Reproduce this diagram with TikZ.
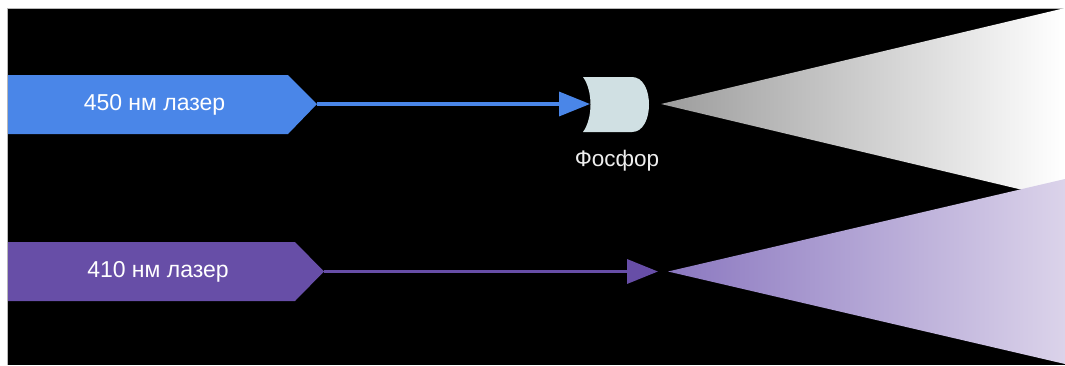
\documentclass[tikz,border=0pt]{standalone}
\usepackage{fontspec}
\setmainfont{Liberation Sans}
\usetikzlibrary{arrows.meta}
\definecolor{laserblue}{HTML}{4A86E8}
\definecolor{laserpurple}{HTML}{674EA7}
\definecolor{phosfill}{HTML}{D0E0E3}
\definecolor{conegray}{HTML}{9C9C9C}
\definecolor{conepurpA}{HTML}{8B78C0}
\definecolor{conepurpB}{HTML}{DBD3EA}
\definecolor{labelwhite}{HTML}{EEEEEE}
\definecolor{framegray}{HTML}{B8B8B8}
\tikzset{
  lbl/.style={text=white, font=\fontsize{23}{27}\selectfont, inner sep=0pt},
  beam/.style={line width=3.5pt, -{Triangle[length=31pt,width=24pt]}},
}
\begin{document}
\begin{tikzpicture}[x=1pt,y=-1pt]
\useasboundingbox (0,0) rectangle (1065,365);
\fill[white] (0,0) rectangle (1065,365);
\fill[black] (8,9) rectangle (1065,365);
\draw[framegray, line width=1pt] (7.5,365) -- (7.5,8.5) -- (1065,8.5);
% cones
\shade[left color=conegray, right color=white] (661,104) -- (1065,8) -- (1065,200) -- cycle;
\shade[left color=conepurpA, right color=conepurpB] (668,271.5) -- (1065,179) -- (1065,364) -- cycle;
% laser pentagons
\fill[laserblue] (8,75) -- (288,75) -- (317,104) -- (288,134) -- (8,134) -- cycle;
\fill[laserpurple] (8,242) -- (295,242) -- (324,271.5) -- (295,301) -- (8,301) -- cycle;
\coordinate (blueTip) at (317,104);
\coordinate (purpleTip) at (324,271.5);
\node[lbl] (blueLbl) at (154.5,105) {450 нм лазер};
\node[lbl] (purpleLbl) at (158,272) {410 нм лазер};
% phosphor
\fill[phosfill] (583,77) -- (632,77) .. controls (643,77) and (649,90) .. (649,104.5)
  .. controls (649,119) and (643,132) .. (632,132) -- (583,132)
  .. controls (593,118) and (593,91) .. (583,77) -- cycle;
\coordinate (phosIn) at (590,104);
\node[lbl, text=labelwhite, font=\fontsize{22.5}{26}\selectfont] (phosLbl) at (617,161) {Фосфор};
\coordinate (purpleEnd) at (658,271.5);
% beams
\draw[beam, laserblue] (blueTip) -- (phosIn);
\draw[beam, laserpurple] (purpleTip) -- (purpleEnd);
\end{tikzpicture}
\end{document}
